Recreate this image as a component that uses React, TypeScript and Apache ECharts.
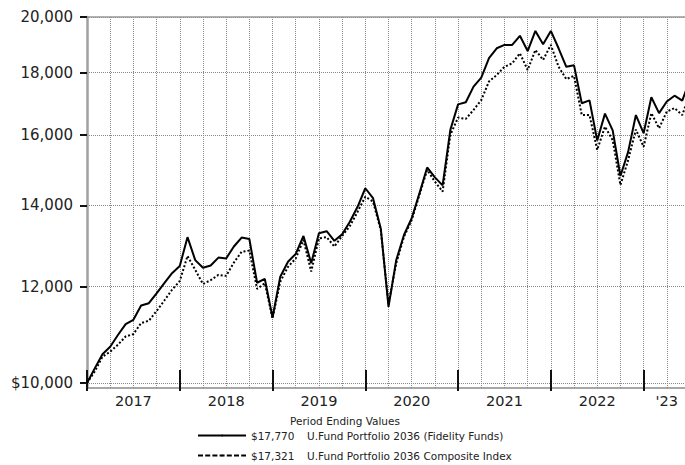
import React, { useEffect, useRef } from 'react';
import * as echarts from 'echarts';

// Monthly period-ending values, Dec 2016 (index 0) to Jun 2023 (index 78)
const fundName = 'U.Fund Portfolio 2036 (Fidelity Funds)';
const indexName = 'U.Fund Portfolio 2036 Composite Index';

const fundValues = [
  10000, 10280, 10560, 10710, 10950, 11180, 11270, 11580, 11630, 11850, 12080, 12310,
  12480, 13180, 12620, 12440, 12490, 12680, 12660, 12950, 13170, 13135, 12090, 12180,
  11320, 12230, 12580, 12770, 13210, 12545, 13280, 13330, 13090, 13250, 13570, 13960,
  14460, 14190, 13400, 11550, 12620, 13235, 13660, 14320, 15040, 14760, 14540, 16150,
  16950, 17020, 17530, 17830, 18500, 18850, 18970, 18970, 19300, 18750, 19480, 18990,
  19480, 18850, 18200, 18250, 16985, 17080, 15830, 16655, 16135, 14800, 15490, 16610,
  16050, 17180, 16670, 17040, 17230, 17070, 17770,
];

const indexValues = [
  10000, 10220, 10510, 10610, 10750, 10920, 10970, 11200, 11250, 11460, 11690, 11930,
  12130, 12720, 12390, 12060, 12150, 12270, 12250, 12560, 12820, 12850, 11950, 12080,
  11300, 12115, 12460, 12660, 13110, 12350, 13150, 13180, 12950, 13210, 13460, 13830,
  14230, 14100, 13360, 11620, 12545, 13190, 13615, 14280, 14970, 14640, 14370, 16000,
  16530, 16490, 16770, 17090, 17700, 17920, 18200, 18320, 18670, 18090, 18790, 18440,
  18970, 18200, 17780, 17890, 16610, 16610, 15550, 16250, 15840, 14550, 15250, 16160,
  15640, 16670, 16200, 16720, 16830, 16610, 17321,
];

const yTickValues = [10000, 12000, 14000, 16000, 18000, 20000];
const yearLabels = ['2017', '2018', '2019', '2020', '2021', '2022', "'23"];
const yearLabelMonths = [6, 18, 30, 42, 54, 66, 75];
const yearTickInterval = 12;
const gridInterval = 3;
const yMin = 9905;
const yMax = 20000;

const FONT = '"DejaVu Sans", Verdana, sans-serif';
const lg = (v: number) => Math.log10(v);
const fmt = (v: number) => v.toLocaleString('en-US');

export default function App() {
  const ref = useRef<HTMLDivElement>(null);

  useEffect(() => {
    if (!ref.current) return;
    const chart = echarts.init(ref.current, undefined, { renderer: 'svg' });
    const lastIdx = fundValues.length - 1;
    const xMax = lastIdx;

    const legendText = (name: string) => {
      const v = name === fundName ? fundValues[lastIdx] : indexValues[lastIdx];
      return `{v|$${fmt(v)}}{n|${name}}`;
    };
    const legendTextStyle = {
      fontFamily: FONT,
      fontSize: 10.5,
      color: '#222',
      rich: {
        v: { width: 56, fontFamily: FONT, fontSize: 10.5, color: '#222' },
        n: { fontFamily: FONT, fontSize: 10.5, color: '#222' },
      },
    };
    const legendBase = {
      orient: 'horizontal',
      left: 197,
      padding: 0,
      itemWidth: 48,
      itemHeight: 2,
      selectedMode: false,
      formatter: legendText,
      textStyle: legendTextStyle,
    };

    const option: any = {
      animation: false,
      backgroundColor: '#ffffff',
      textStyle: { fontFamily: FONT },
      title: {
        text: 'Period Ending Values',
        left: 345,
        top: 415,
        padding: 0,
        textAlign: 'center',
        textStyle: { fontFamily: FONT, fontSize: 10.5, fontWeight: 'normal', color: '#222' },
      },
      legend: [
        {
          ...legendBase,
          top: 430,
          data: [{ name: fundName }],
          lineStyle: { width: 2, type: 'solid' },
        },
        {
          ...legendBase,
          top: 450,
          data: [{ name: indexName }],
          lineStyle: { width: 2, type: [5, 2.2] },
        },
      ],
      grid: {
        left: 87,
        width: 603,
        top: 17,
        height: 371,
        containLabel: false,
        outerBoundsMode: 'none',
      },
      xAxis: [
        {
          type: 'value',
          min: 0,
          max: xMax,
          interval: gridInterval,
          position: 'bottom',
          axisLine: { show: true, lineStyle: { color: '#8a8a8a', width: 1.5 } },
          axisTick: { show: false },
          splitLine: { show: true, lineStyle: { color: '#888', width: 1, type: [1, 1] } },
          axisLabel: {
            show: true,
            margin: 5,
            fontSize: 14.5,
            fontFamily: FONT,
            color: '#222',
            formatter: (val: number) => {
              const k = yearLabelMonths.indexOf(Math.round(val));
              return k >= 0 ? yearLabels[k] : '';
            },
          },
        },
        {
          type: 'value',
          min: 0,
          max: xMax,
          interval: yearTickInterval,
          position: 'bottom',
          offset: 3,
          axisLine: { show: false },
          axisTick: { show: true, inside: true, length: 21, lineStyle: { color: '#111', width: 2 } },
          axisLabel: { show: false },
          splitLine: { show: false },
        },
        {
          type: 'value',
          min: 0,
          max: xMax,
          position: 'top',
          axisLine: { show: true, lineStyle: { color: '#999', width: 1.5 } },
          axisTick: { show: false },
          axisLabel: { show: false },
          splitLine: { show: false },
        },
      ],
      yAxis: {
        type: 'value',
        min: lg(yMin),
        max: lg(yMax),
        offset: 4,
        axisLine: { show: true, lineStyle: { color: '#a0a0a0', width: 2.5 } },
        axisTick: {
          show: true,
          length: 7,
          customValues: yTickValues.map(lg),
          lineStyle: { color: '#111', width: 2 },
        },
        axisLabel: {
          show: true,
          margin: 10,
          fontSize: 15,
          fontFamily: FONT,
          color: '#222',
          customValues: yTickValues.map(lg),
          formatter: (val: number) => {
            const v = Math.round(Math.pow(10, val) / 100) * 100;
            return (v === yTickValues[0] ? '$' : '') + fmt(v);
          },
        },
        splitLine: { show: true, lineStyle: { color: '#888', width: 1, type: [1, 1] } },
      },
      series: [
        {
          name: fundName,
          type: 'line',
          xAxisIndex: 0,
          symbol: 'none',
          data: fundValues.map((v, i) => [i, lg(v)]),
          lineStyle: { color: '#000', width: 2 },
          itemStyle: { color: '#000' },
          z: 3,
        },
        {
          name: indexName,
          type: 'line',
          xAxisIndex: 0,
          symbol: 'none',
          data: indexValues.map((v, i) => [i, lg(v)]),
          lineStyle: { color: '#000', width: 2, type: [2, 2] },
          itemStyle: { color: '#000' },
          z: 2,
        },
      ],
    };

    chart.setOption(option);
    return () => chart.dispose();
  }, []);

  return (
    <div
      ref={ref}
      style={{ position: 'absolute', left: 0, top: 0, width: 685, height: 465, background: '#fff' }}
    />
  );
}
